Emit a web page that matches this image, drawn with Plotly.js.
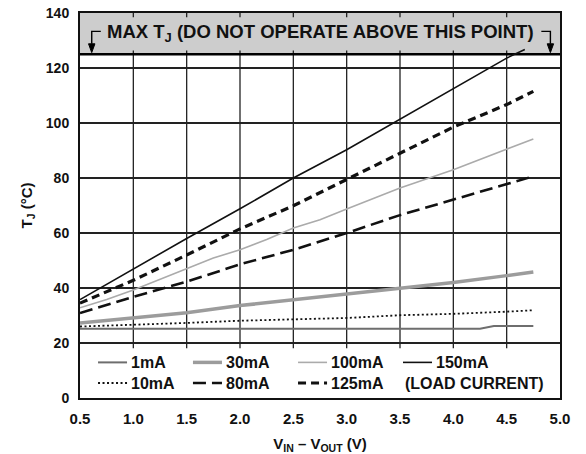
<!DOCTYPE html>
<html>
<head>
<meta charset="utf-8">
<script src="https://cdn.plot.ly/plotly-3.0.1.min.js"></script>
<style>html,body{margin:0;padding:0;background:#fff;}#chart{width:586px;height:454px;}</style>
</head>
<body>
<div id="chart"></div>
<script>
// ---- data ----
const seriesNames = ['1mA', '30mA', '100mA', '150mA', '10mA', '80mA', '125mA'];

const x1mA = [0.5, 4.25, 4.38, 4.75];
const y1mA = [25.2, 25.2, 26.2, 26.2];

const x10mA = [0.5, 1.0, 1.5, 2.0, 2.5, 3.0, 3.5, 4.0, 4.5, 4.75];
const y10mA = [26.0, 26.6, 27.3, 28.1, 28.7, 29.1, 30.1, 30.6, 31.4, 31.9];

const x30mA = [0.5, 1.0, 1.5, 2.0, 2.5, 3.0, 3.5, 4.0, 4.5, 4.75];
const y30mA = [27.3, 29.0, 31.0, 33.6, 35.7, 37.9, 40.1, 42.0, 44.5, 45.8];

const x80mA = [0.5, 1.0, 1.5, 2.0, 2.5, 3.0, 3.5, 4.0, 4.5, 4.75];
const y80mA = [30.9, 36.8, 42.3, 48.6, 53.9, 60.0, 66.5, 72.1, 77.6, 80.6];

const x100mA = [0.5, 0.75, 1.0, 1.5, 1.75, 2.0, 2.25, 2.5, 2.75, 3.0, 3.5, 4.0, 4.5, 4.75];
const y100mA = [32.8, 35.8, 39.3, 46.9, 50.9, 53.9, 57.6, 61.8, 64.8, 68.7, 76.4, 83.0, 90.3, 94.2];

const x125mA = [0.5, 1.0, 1.5, 2.0, 2.5, 3.0, 3.5, 4.0, 4.5, 4.75];
const y125mA = [34.5, 42.8, 52.0, 61.5, 69.9, 79.6, 89.0, 98.5, 106.7, 111.5];

const x150mA = [0.5, 1.0, 1.5, 2.0, 2.5, 3.0, 3.5, 4.0, 4.5, 4.67];
const y150mA = [35.8, 47.0, 58.0, 68.8, 80.0, 90.3, 101.3, 112.4, 123.6, 126.7];

const xTickVals = [0.5, 1.0, 1.5, 2.0, 2.5, 3.0, 3.5, 4.0, 4.5, 5.0];
const xTickText = ['0.5', '1.0', '1.5', '2.0', '2.5', '3.0', '3.5', '4.0', '4.5', '5.0'];
const yTickVals = [0, 20, 40, 60, 80, 100, 120, 140];
const yTickText = ['0', '20', '40', '60', '80', '100', '120', '140'];

const maxTj = 125;          // limit line
const gridX = [1.0, 1.5, 2.0, 2.5, 3.0, 3.5, 4.0, 4.5];
const legendZoneTop = 20;   // legend box occupies 0..20

const bandText = 'MAX T<sub>J</sub> (DO NOT OPERATE ABOVE THIS POINT)';
const loadCurrentText = '(LOAD CURRENT)';

// ---- styling ----
const FONT = 'Liberation Sans, Arial, Helvetica, sans-serif';
const styles = {
  '1mA':   {color: '#6e6e6e', width: 2,   dash: 'solid'},
  '30mA':  {color: '#9c9c9c', width: 3.5, dash: 'solid'},
  '100mA': {color: '#ababab', width: 1.6, dash: 'solid'},
  '150mA': {color: '#111111', width: 1.6, dash: 'solid'},
  '10mA':  {color: '#111111', width: 1.8, dash: '2px,2.5px'},
  '80mA':  {color: '#111111', width: 2.6, dash: '13px,6px'},
  '125mA': {color: '#111111', width: 3.2, dash: '8px,5px'}
};
const xs = {'1mA': x1mA, '10mA': x10mA, '30mA': x30mA, '80mA': x80mA, '100mA': x100mA, '125mA': x125mA, '150mA': x150mA};
const ys = {'1mA': y1mA, '10mA': y10mA, '30mA': y30mA, '80mA': y80mA, '100mA': y100mA, '125mA': y125mA, '150mA': y150mA};

const traces = seriesNames.map(n => ({
  type: 'scatter', mode: 'lines', name: n,
  x: xs[n], y: ys[n],
  line: {color: styles[n].color, width: styles[n].width, dash: styles[n].dash},
  hoverinfo: 'skip', showlegend: false
}));

const shapes = [];
const annotations = [];
// gray "do not operate" band
shapes.push({type: 'rect', xref: 'x', yref: 'y', x0: 0.5, x1: 5.0, y0: maxTj, y1: 140,
  fillcolor: '#cdcdcd', line: {width: 0}, layer: 'below'});
// vertical grid lines (legend zone to limit line) plus short ticks in the band
gridX.forEach(gx => {
  shapes.push({type: 'line', xref: 'x', yref: 'y', x0: gx, x1: gx, y0: legendZoneTop - 1.9, y1: maxTj,
    line: {color: '#222', width: 1.3}, layer: 'below'});
  shapes.push({type: 'line', xref: 'x', yref: 'y', x0: gx, x1: gx, y0: 140, y1: 138.5,
    line: {color: '#222', width: 1.3}, layer: 'below'});
  shapes.push({type: 'line', xref: 'x', yref: 'y', x0: gx, x1: gx, y0: maxTj, y1: maxTj + 1.4,
    line: {color: '#222', width: 1.3}, layer: 'below'});
});
// limit line
shapes.push({type: 'line', xref: 'x', yref: 'y', x0: 0.5, x1: 5.0, y0: maxTj, y1: maxTj,
  line: {color: '#000', width: 2.6}, layer: 'below'});
// brackets with down arrows
const lbx = 0.61, lhx = 0.695, rbx = 4.91, rhx = 4.825, brY = 133.3, headTop = 128.8, headTip = 125.6, headHalf = 0.03;
[[lbx, lhx], [rbx, rhx]].forEach(([bx, hx]) => {
  shapes.push({type: 'path', xref: 'x', yref: 'y',
    path: `M${hx},${brY} L${bx},${brY} L${bx},${headTop}`, line: {color: '#000', width: 1.4}});
  shapes.push({type: 'path', xref: 'x', yref: 'y',
    path: `M${bx - headHalf},${headTop} L${bx + headHalf},${headTop} L${bx},${headTip} Z`,
    fillcolor: '#000', line: {color: '#000', width: 1}});
});

// manual legend (4 columns x 2 rows) inside the 0..20 box
const legendRowY = [12.95, 5.45];
const legendColX = [0.669, 1.559, 2.544, 3.528];
const legendSampleLen = 0.272;
const legendTextGap = 0.015;
const legendSlots = [['1mA', 0, 0], ['30mA', 0, 1], ['100mA', 0, 2], ['150mA', 0, 3],
                     ['10mA', 1, 0], ['80mA', 1, 1], ['125mA', 1, 2]];
legendSlots.forEach(([n, r, c]) => {
  const x0 = legendColX[c], y = legendRowY[r];
  shapes.push({type: 'line', xref: 'x', yref: 'y', x0: x0, x1: x0 + legendSampleLen, y0: y, y1: y,
    line: {color: styles[n].color, width: styles[n].width, dash: styles[n].dash}});
  annotations.push({xref: 'x', yref: 'y', x: x0 + legendSampleLen + legendTextGap, y: y, text: n,
    showarrow: false, xanchor: 'left', yanchor: 'middle',
    font: {family: FONT, size: 16, color: '#111', weight: 'bold'}});
});
annotations.push({xref: 'x', yref: 'y', x: legendColX[3], y: legendRowY[1], text: loadCurrentText,
  showarrow: false, xanchor: 'left', yanchor: 'middle',
  font: {family: FONT, size: 16, color: '#111', weight: 'bold'}});
annotations.push({xref: 'x', yref: 'y', x: 2.75, y: 132.6, text: bandText, showarrow: false,
  xanchor: 'center', yanchor: 'middle',
  font: {family: FONT, size: 18.5, color: '#111', weight: 'bold'}});

const layout = {
  width: 586, height: 454,
  margin: {l: 80, r: 26, t: 13, b: 56},
  paper_bgcolor: '#fff', plot_bgcolor: '#fff',
  font: {family: FONT, size: 14, color: '#111', weight: 'bold'},
  showlegend: false,
  xaxis: {
    range: [0.5, 5.0], tickmode: 'array', tickvals: xTickVals, ticktext: xTickText,
    showgrid: false, zeroline: false, showline: true, mirror: true, linecolor: '#111', linewidth: 2,
    ticks: 'outside', ticklen: 6, tickcolor: 'rgba(0,0,0,0)',
    tickfont: {family: FONT, size: 15, color: '#111', weight: 'bold'},
    title: {text: 'V<sub>IN</sub> – V<sub>OUT</sub> (V)', standoff: 14,
      font: {family: FONT, size: 15, color: '#111', weight: 'bold'}},
    fixedrange: true
  },
  yaxis: {
    range: [0, 140], tickmode: 'array', tickvals: yTickVals, ticktext: yTickText,
    showgrid: true, gridcolor: '#222', gridwidth: 1.3, zeroline: false,
    showline: true, mirror: true, linecolor: '#111', linewidth: 2,
    ticks: 'outside', ticklen: 6, tickcolor: 'rgba(0,0,0,0)',
    tickfont: {family: FONT, size: 14, color: '#111', weight: 'bold'},
    title: {text: 'T<sub>J</sub> (°C)', standoff: 10,
      font: {family: FONT, size: 15, color: '#111', weight: 'bold'}},
    fixedrange: true
  },
  shapes: shapes,
  annotations: annotations
};

Plotly.newPlot('chart', traces, layout, {displayModeBar: false, staticPlot: true});
</script>
</body>
</html>
